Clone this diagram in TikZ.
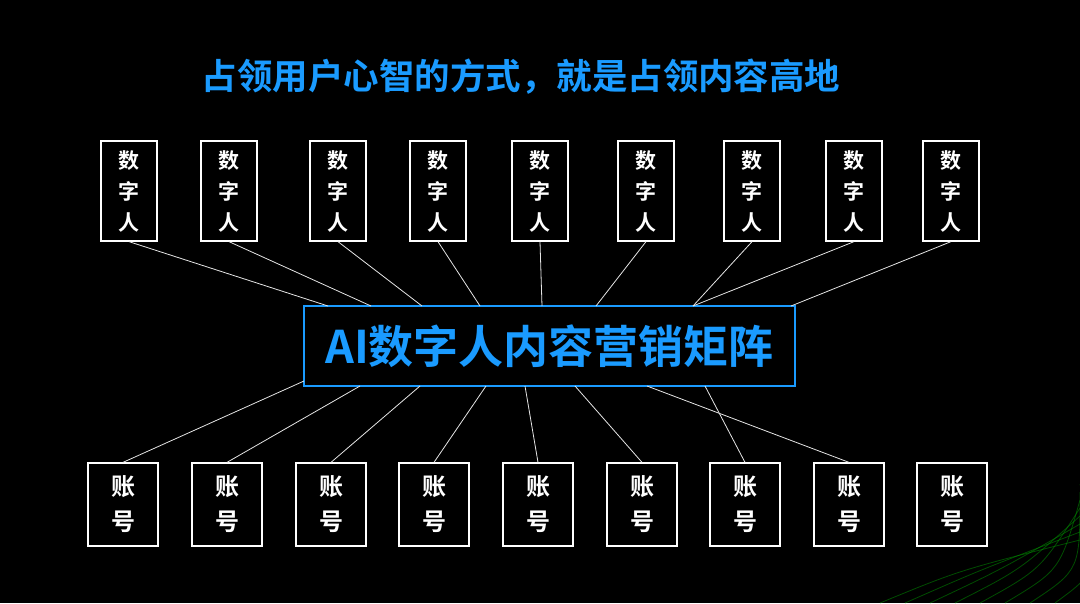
\documentclass[tikz,border=0pt]{standalone}
\usepackage{fontspec}
\newfontfamily\cjk{Noto Sans CJK SC Bold}
\begin{document}
\begin{tikzpicture}[x=1pt,y=-1pt,
  topbox/.style={draw=white,line width=1.3pt,minimum width=56pt,minimum height=100pt,inner sep=0pt,text=white,font=\cjk\fontsize{21}{31}\selectfont,align=center},
  botbox/.style={draw=white,line width=1.3pt,minimum width=70pt,minimum height=83pt,inner sep=0pt,text=white,font=\cjk\fontsize{24}{35}\selectfont,align=center},
  link/.style={draw=white!90!black,line width=0.8pt}]
\fill[black] (0,0) rectangle (1080,603);
\useasboundingbox (0,0) rectangle (1080,603);
% green streaks
\foreach \i in {0,...,7}{
  \draw[green!60!black,opacity=0.5,line width=0.8pt] (880+\i*25,603) .. controls (960+\i*20,570) .. (1080,540-\i*8);
}
\node[text={rgb,255:red,26;green,155;blue,255},font=\cjk\fontsize{35.5}{40}\selectfont] (title) at (521,77) {占领用户心智的方式，就是占领内容高地};
\node[draw={rgb,255:red,26;green,155;blue,255},line width=1.3pt,minimum width=491pt,minimum height=80pt,text={rgb,255:red,26;green,155;blue,255},font=\cjk\fontsize{45}{50}\selectfont] (c) at (549.5,346) {AI数字人内容营销矩阵};
\foreach \n/\x in {1/129,2/229,3/338,4/438,5/540,6/646,7/752,8/854,9/951}{
  \node[topbox] (t\n) at (\x,191) {数\\字\\人};
}
\foreach \n/\x in {1/123,2/227,3/331,4/434,5/538,6/642,7/745,8/849,9/952}{
  \node[botbox] (b\n) at (\x,504.5) {账\\号};
}
\foreach \n/\x in {1/328,2/371,3/422,4/480,5/542,6/596,7/693,8/693,9/791}{
  \coordinate (ct\n) at (\x,306);
  \draw[link] (t\n.south) -- (ct\n);
}
\coordinate (cb1) at (304,381);
\foreach \n/\x in {2/360,3/420,4/486,5/525,6/575,7/705,8/647}{
  \coordinate (cb\n) at (\x,386);
}
\foreach \n in {1,...,8}{
  \draw[link] (cb\n) -- (b\n.north);
}
\end{tikzpicture}
\end{document}
